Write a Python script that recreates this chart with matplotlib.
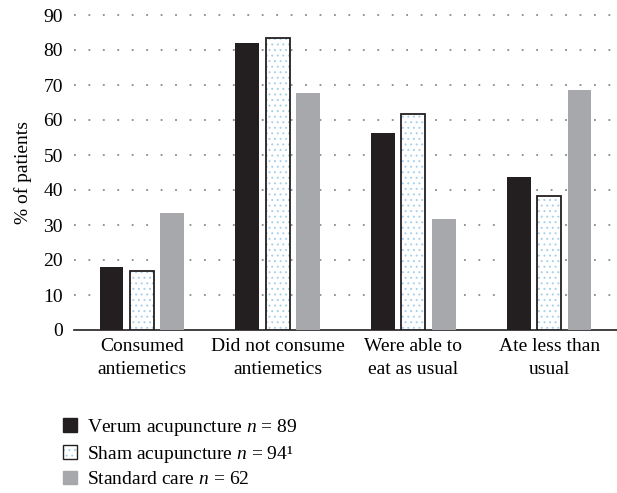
import numpy as np
import matplotlib
matplotlib.use("Agg")
import matplotlib.pyplot as plt
from matplotlib.patches import Patch
from matplotlib.legend_handler import HandlerTuple

plt.rcParams['font.family'] = ['Liberation Serif', 'DejaVu Serif']
plt.rcParams['mathtext.fontset'] = 'custom'
plt.rcParams['mathtext.rm'] = 'Liberation Serif'
plt.rcParams['mathtext.it'] = 'Liberation Serif:italic'
plt.rcParams['hatch.linewidth'] = 0.7

categories = ["Consumed\nantiemetics", "Did not consume\nantiemetics",
              "Were able to\neat as usual", "Ate less than\nusual"]
verum = [18, 82, 56.2, 43.8]
sham = [17, 83.3, 61.7, 38.4]
standard = [33.3, 67.6, 31.6, 68.5]
labels = [r"Verum acupuncture $n$ = 89",
          r"Sham acupuncture $n$ = 94¹",
          r"Standard care $n$ = 62"]

black = "#231f20"
grey = "#a7a8ab"
dotblue = "#a9d0ea"

fig = plt.figure(figsize=(6.17, 4.93), dpi=100)
ax = fig.add_axes([74/617, 1-330/493, 1-74/617, 315/493])

x = np.arange(len(categories))
w = 0.176
step = 0.224

ax.bar(x - step, verum, w, color=black, zorder=3)
ax.bar(x, sham, w, color="white", edgecolor=dotblue, hatch="...", linewidth=0, zorder=3)
ax.bar(x, sham, w, color="none", edgecolor=black, linewidth=1.3, zorder=4)
ax.bar(x + step, standard, w, color=grey, zorder=3)

ax.set_xlim(-0.5, 3.5)
ax.set_ylim(0, 90)
ax.set_yticks(range(0, 91, 10))
ax.set_xticks(x)
ax.set_xticklabels(categories, fontsize=14, linespacing=1.45)
ax.tick_params(axis="both", length=0, labelsize=14)
ax.tick_params(axis="y", pad=8)
ax.tick_params(axis="x", pad=6)
for s in ["top", "right", "left"]:
    ax.spines[s].set_visible(False)
ax.spines["bottom"].set_color(black)
ax.spines["bottom"].set_linewidth(1.2)

for yv in range(10, 91, 10):
    ax.axhline(yv, color="#8a8a8a", linewidth=1.3, linestyle=(0, (1, 7)),
               zorder=1, clip_on=False)

ax.set_ylabel("% of patients", fontsize=14, labelpad=8)

h_verum = Patch(facecolor=black, edgecolor=black)
h_sham = (Patch(facecolor="white", edgecolor=dotblue, hatch="...", linewidth=0),
          Patch(facecolor="none", edgecolor=black, linewidth=1.0))
h_std = Patch(facecolor=grey, edgecolor=grey)
fig.legend([h_verum, h_sham, h_std], labels,
           handler_map={tuple: HandlerTuple(ndivide=1, pad=0)},
           loc="upper left", bbox_to_anchor=(0.09, 0.17), frameon=False,
           fontsize=14, handlelength=0.7, handleheight=0.7, handletextpad=0.5,
           labelspacing=0.3, borderaxespad=0)

fig.savefig("out.png", dpi=100)
